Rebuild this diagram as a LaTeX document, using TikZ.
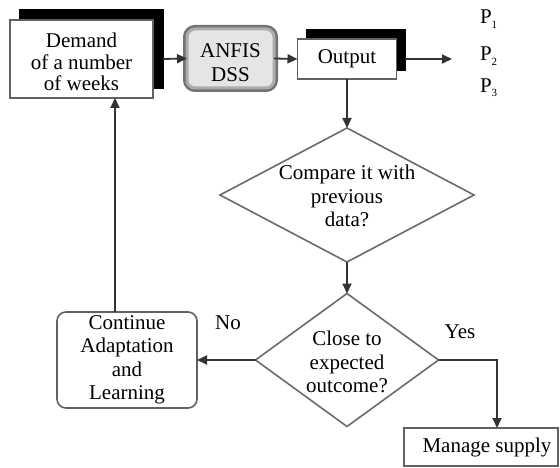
\documentclass[tikz,border=0pt]{standalone}
\usepackage{fontspec}
\setmainfont{Liberation Serif}
\newfontfamily\tnrfont{Liberation Serif}
\usetikzlibrary{shapes.geometric,arrows.meta,shadows}
\begin{document}
\begin{tikzpicture}[x=1pt,y=-1pt,
  every node/.style={font=\tnrfont\fontsize{21}{23.5}\selectfont, align=center, inner sep=0pt, outer sep=0pt},
  every label/.style={font=\tnrfont\fontsize{21}{23.5}\selectfont, align=center, inner sep=0pt},
  box/.style={rectangle, draw=black!62, line width=1.6pt, fill=white},
  sbox/.style={box, copy shadow={shadow xshift=#1, shadow yshift=#1, fill=black, draw=black}},
  anfisbox/.style={rectangle, rounded corners=8pt, fill=black!10, draw=black!32, line width=3pt,
    preaction={draw=black!55, line width=8pt}},
  dia/.style={diamond, draw=black!58, line width=1.6pt, fill=white},
  arr/.style={draw=black!80, line width=1.8pt, -{Triangle[length=10pt,width=9pt]}},
  plabel/.style={font=\tnrfont\fontsize{21}{23.5}\selectfont, anchor=west}
]
\useasboundingbox (0,0) rectangle (560,468);
\fill[white] (0,0) rectangle (560,468);

% Demand box with black copy shadow
\node[sbox=10pt, minimum width=143pt, minimum height=78pt,
  label={[yshift=-3pt, font=\tnrfont\fontsize{21}{21.7}\selectfont]center:Demand\\of a number\\of weeks}] (demand) at (81.5,59) {};

% ANFIS DSS
\node[anfisbox, minimum width=87pt, minimum height=59pt,
  label={[yshift=-4pt]center:ANFIS\\DSS}] (anfis) at (230.5,58.5) {};

% Output box
\node[sbox=9pt, minimum width=99pt, minimum height=40pt] (output) at (347,59) {Output};

% P labels
\coordinate (pend) at (452,59);
\node[plabel] (p1) at (480,19) {P\raisebox{-0.45ex}{\fontsize{11}{12}\selectfont 1}};
\node[plabel] (p2) at (480,56) {P\raisebox{-0.45ex}{\fontsize{11}{12}\selectfont 2}};
\node[plabel] (p3) at (480,88) {P\raisebox{-0.45ex}{\fontsize{11}{12}\selectfont 3}};

% Diamonds
\node[dia, minimum width=254pt, minimum height=134pt,
  label={[yshift=-1pt]center:Compare it with\\previous\\data?}] (d1) at (347,195) {};
\node[dia, minimum width=183pt, minimum height=133pt,
  label={[yshift=-2pt]center:Close to\\expected\\outcome?}] (d2) at (347,360) {};

% Continue box
\node[box, rounded corners=9pt, minimum width=140pt, minimum height=96pt] (cont) at (127,360)
  {Continue\\Adaptation\\and\\Learning};

% Manage supply box
\node[box, minimum width=154pt, minimum height=38pt,
  label={[xshift=6pt]center:Manage supply}] (manage) at (481,447) {};

% Yes / No labels
\node (no) at (228,323) {No};
\node (yes) at (460,332) {Yes};

% Connectors
\draw[arr] ([xshift=10pt]demand.east) -- (anfis.west);
\draw[arr] (anfis.east) -- (output.west);
\draw[arr] ([xshift=8pt]output.east) -- (pend);
\draw[arr] (output.south) -- (d1.north);
\draw[arr] (d1.south) -- (d2.north);
\draw[arr] (d2.west) -- (cont.east);
\draw[arr] ([xshift=-12pt]cont.north) -- ([xshift=-12pt]cont.north |- demand.south);
\draw[arr] (d2.east) -| ([xshift=16pt]manage.north);
\end{tikzpicture}
\end{document}
